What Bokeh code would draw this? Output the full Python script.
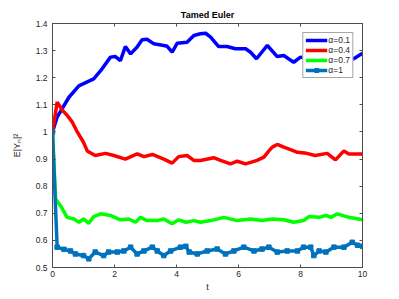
from bokeh.plotting import figure
from bokeh.models import (LinearAxis, FixedTicker, CustomJSTickFormatter, Range1d,
                          Legend, LegendItem)
from bokeh.embed import file_html
from bokeh.resources import INLINE

# ---- data ----
t1 = [0, 0.15, 0.53, 0.85, 1.0, 1.33, 1.6, 1.87, 2.03, 2.19, 2.35, 2.52, 2.73, 2.89, 3.05,
      3.27, 3.59, 3.7, 3.86, 4.02, 4.34, 4.56, 4.77, 4.94, 5.1, 5.36, 5.63, 5.9, 6.23, 6.39,
      6.58, 6.93, 7.25, 7.46, 7.78, 8.0, 8.3, 8.6, 8.9, 9.2, 9.5, 9.72, 10]
y1 = [1.0, 1.055, 1.128, 1.17, 1.178, 1.196, 1.233, 1.276, 1.278, 1.263, 1.315, 1.288, 1.313,
      1.34, 1.342, 1.325, 1.319, 1.316, 1.294, 1.327, 1.331, 1.356, 1.362, 1.364, 1.35, 1.315,
      1.315, 1.307, 1.307, 1.294, 1.27, 1.319, 1.278, 1.282, 1.257, 1.276, 1.27, 1.255, 1.27,
      1.265, 1.275, 1.27, 1.29]

t2 = [0, 0.15, 0.32, 0.48, 0.64, 0.8, 1.0, 1.12, 1.38, 1.71, 1.98, 2.35, 2.73, 2.95, 3.22,
      3.59, 3.86, 4.07, 4.34, 4.56, 4.77, 5.2, 5.42, 5.74, 5.96, 6.23, 6.6, 6.82, 6.98, 7.09,
      7.25, 7.46, 7.68, 7.9, 8.2, 8.47, 8.86, 9.13, 9.4, 9.56, 10]
y2 = [1.0, 1.11, 1.08, 1.06, 1.036, 1.0, 0.962, 0.93, 0.913, 0.921, 0.913, 0.9, 0.919, 0.909,
      0.917, 0.9, 0.885, 0.909, 0.913, 0.895, 0.895, 0.905, 0.895, 0.882, 0.892, 0.882, 0.895,
      0.907, 0.93, 0.944, 0.954, 0.944, 0.935, 0.925, 0.921, 0.913, 0.921, 0.897, 0.93, 0.919,
      0.919]

t3 = [0, 0.1, 0.26, 0.47, 0.69, 0.85, 1.0, 1.17, 1.33, 1.55, 1.87, 2.19, 2.46, 2.68, 2.84,
      3.05, 3.38, 3.59, 3.86, 4.07, 4.3, 4.56, 4.77, 5.1, 5.53, 5.96, 6.39, 6.76, 7.09, 7.46,
      7.78, 8.1, 8.27, 8.6, 8.82, 8.98, 9.19, 9.56, 10]
y3 = [1.0, 0.753, 0.728, 0.685, 0.679, 0.667, 0.679, 0.663, 0.688, 0.698, 0.692, 0.676, 0.679,
      0.667, 0.685, 0.673, 0.673, 0.679, 0.661, 0.676, 0.667, 0.673, 0.667, 0.673, 0.685, 0.673,
      0.679, 0.673, 0.679, 0.676, 0.667, 0.673, 0.688, 0.685, 0.692, 0.685, 0.698, 0.685, 0.676]

t4 = [0, 0.15, 0.37, 0.58, 0.74, 1.0, 1.17, 1.38, 1.65, 1.81, 2.09, 2.3, 2.52, 2.73, 2.95,
      3.22, 3.38, 3.59, 3.81, 4.13, 4.3, 4.41, 4.67, 4.99, 5.31, 5.58, 5.85, 6.17, 6.5, 6.76,
      6.98, 7.25, 7.57, 7.9, 8.1, 8.33, 8.43, 8.6, 8.82, 9.08, 9.4, 9.67, 9.84, 10]
y4 = [1.0, 0.575, 0.567, 0.561, 0.55, 0.544, 0.532, 0.557, 0.544, 0.557, 0.557, 0.561, 0.575,
      0.55, 0.561, 0.575, 0.561, 0.544, 0.561, 0.575, 0.578, 0.557, 0.55, 0.561, 0.568, 0.55,
      0.561, 0.575, 0.561, 0.568, 0.575, 0.557, 0.561, 0.561, 0.575, 0.575, 0.544, 0.561,
      0.557, 0.575, 0.575, 0.593, 0.582, 0.578]

labels = ["α=0.1", "α=0.4", "α=0.7", "α=1"]
colors = ["#0000FF", "#FF0000", "#00FF00", "#0072BD"]
x_ticks = [0, 2, 4, 6, 8, 10]
y_ticks = [0.5, 0.6, 0.7, 0.8, 0.9, 1.0, 1.1, 1.2, 1.3, 1.4]

FONT = "Liberation Sans"
TXT = "#262626"
AX = "#4d4d4d"

p = figure(width=391, height=296, output_backend="svg", toolbar_location=None,
           x_range=Range1d(0, 10), y_range=Range1d(0.5, 1.4),
           min_border_left=52, min_border_right=29, min_border_top=23, min_border_bottom=29,
           x_axis_label="t", y_axis_label="E|Yₙ|²")
p.grid.visible = False
p.outline_line_color = AX
p.background_fill_color = "white"
p.border_fill_color = "white"

p.title.text = "Tamed Euler"
p.title.align = "center"
p.title.text_font = FONT
p.title.text_font_size = "9px"
p.title.text_font_style = "bold"
p.title.text_color = "black"
p.title.standoff = 7
p.title.offset = 0

fmt = CustomJSTickFormatter(code="return tick.toFixed(1).replace(/\\.0$/, '');")
blank = CustomJSTickFormatter(code="return '';")

def style_axis(ax, ticks, show_labels=True):
    ax.ticker = FixedTicker(ticks=ticks)
    ax.major_tick_in = 3
    ax.major_tick_out = 0
    ax.minor_tick_line_color = None
    ax.axis_line_color = AX
    ax.major_tick_line_color = AX
    ax.major_label_text_font = FONT
    ax.major_label_text_color = TXT
    ax.major_label_text_font_size = "8.5px"
    ax.axis_label_text_font = FONT
    ax.axis_label_text_color = TXT
    ax.axis_label_text_font_style = "normal"
    ax.axis_label_text_font_size = "9px"
    if not show_labels:
        ax.formatter = blank
        ax.major_label_standoff = 0

for ax in p.xaxis:
    style_axis(ax, x_ticks)
    ax.major_label_standoff = 3
    ax.axis_label_standoff = 2
for ax in p.yaxis:
    style_axis(ax, y_ticks)
    ax.formatter = fmt
    ax.major_label_standoff = 5
    ax.axis_label_standoff = 11

top = LinearAxis()
style_axis(top, x_ticks, show_labels=False)
p.add_layout(top, "above")
right = LinearAxis()
style_axis(right, y_ticks, show_labels=False)
p.add_layout(right, "right")

r1 = p.line(t1, y1, line_color=colors[0], line_width=3.5)
r2 = p.line(t2, y2, line_color=colors[1], line_width=3.5)
r3 = p.line(t3, y3, line_color=colors[2], line_width=3.5)
r4 = p.line(t4, y4, line_color=colors[3], line_width=3.5)
r4m = p.scatter(t4, y4, marker="square", size=4.5, fill_color=colors[3], line_color=colors[3])

legend = Legend(items=[
    LegendItem(label=labels[0], renderers=[r1]),
    LegendItem(label=labels[1], renderers=[r2]),
    LegendItem(label=labels[2], renderers=[r3]),
    LegendItem(label=labels[3], renderers=[r4, r4m]),
], location="top_right")
legend.margin = 9
legend.padding = 2
legend.spacing = 0
legend.label_height = 10
legend.glyph_height = 10
legend.glyph_width = 22
legend.label_standoff = 1
legend.label_text_font = FONT
legend.label_text_font_size = "8.5px"
legend.label_text_color = TXT
legend.border_line_color = AX
legend.background_fill_alpha = 1
p.add_layout(legend)

open("out.html", "w").write(file_html(p, INLINE))
